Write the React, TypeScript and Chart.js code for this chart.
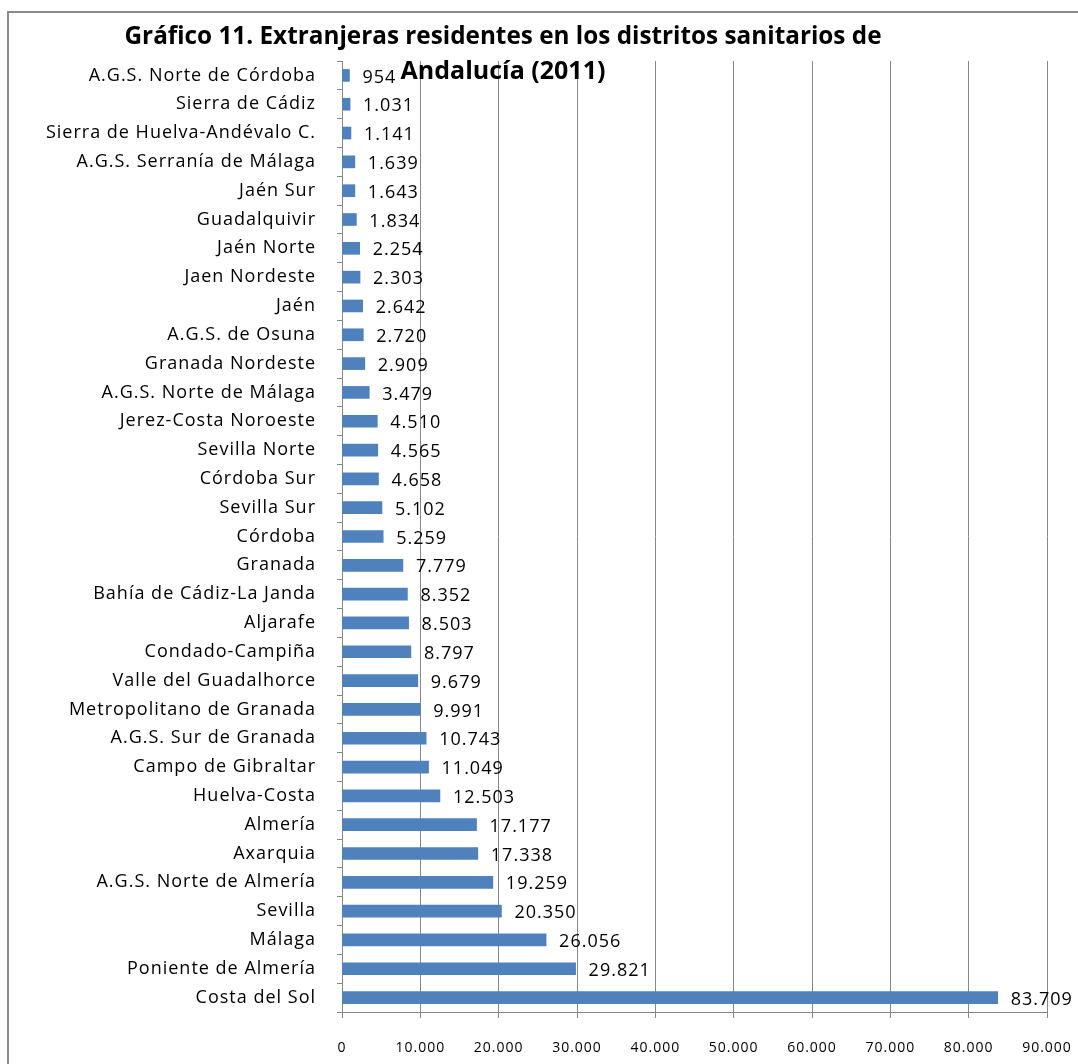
import React, { useEffect, useRef } from "react";
import { Chart, registerables } from "chart.js";

Chart.register(...registerables);

const titleLines = [
  "Gráfico 11. Extranjeras residentes en los distritos sanitarios de",
  "Andalucía (2011)",
];

const districts = [
  "A.G.S. Norte de Córdoba",
  "Sierra de Cádiz",
  "Sierra de Huelva-Andévalo C.",
  "A.G.S. Serranía de Málaga",
  "Jaén Sur",
  "Guadalquivir",
  "Jaén Norte",
  "Jaen Nordeste",
  "Jaén",
  "A.G.S. de Osuna",
  "Granada Nordeste",
  "A.G.S. Norte de Málaga",
  "Jerez-Costa Noroeste",
  "Sevilla Norte",
  "Córdoba Sur",
  "Sevilla Sur",
  "Córdoba",
  "Granada",
  "Bahía de Cádiz-La Janda",
  "Aljarafe",
  "Condado-Campiña",
  "Valle del Guadalhorce",
  "Metropolitano de Granada",
  "A.G.S. Sur de Granada",
  "Campo de Gibraltar",
  "Huelva-Costa",
  "Almería",
  "Axarquia",
  "A.G.S. Norte de Almería",
  "Sevilla",
  "Málaga",
  "Poniente de Almería",
  "Costa del Sol",
];

const residents = [
  954, 1031, 1141, 1639, 1643, 1834, 2254, 2303, 2642, 2720, 2909, 3479, 4510,
  4565, 4658, 5102, 5259, 7779, 8352, 8503, 8797, 9679, 9991, 10743, 11049,
  12503, 17177, 17338, 19259, 20350, 26056, 29821, 83709,
];

const xTicks = [0, 10000, 20000, 30000, 40000, 50000, 60000, 70000, 80000, 90000];

const fmt = (v: number) =>
  String(Math.round(v)).replace(/\B(?=(\d{3})+(?!\d))/g, ".");

const LABEL_FONT = "'Open Sans', 'DejaVu Sans', sans-serif";

const decorPlugin = {
  id: "decor",
  beforeDraw(chart: any) {
    const ctx = chart.ctx;
    ctx.save();
    ctx.fillStyle = "#ffffff";
    ctx.fillRect(0, 0, chart.width, chart.height);
    ctx.strokeStyle = "#8a8a8a";
    ctx.lineWidth = 2;
    ctx.beginPath();
    ctx.moveTo(8, chart.height);
    ctx.lineTo(8, 12);
    ctx.lineTo(chart.width, 12);
    ctx.stroke();
    ctx.restore();
    ctx.letterSpacing = "1px";
  },
  afterDatasetsDraw(chart: any) {
    const ctx = chart.ctx;
    const meta = chart.getDatasetMeta(0);
    ctx.save();
    ctx.letterSpacing = "1px";
    ctx.fillStyle = "#000";
    ctx.font = `18px ${LABEL_FONT}`;
    ctx.textAlign = "left";
    ctx.textBaseline = "middle";
    meta.data.forEach((bar: any, i: number) => {
      ctx.fillText(fmt(residents[i]), bar.x + 13, bar.y + 2);
    });
    ctx.restore();
  },
  afterDraw(chart: any) {
    const ctx = chart.ctx;
    ctx.save();
    ctx.letterSpacing = "0px";
    ctx.fillStyle = "#000";
    ctx.font = `bold 25px ${LABEL_FONT}`;
    ctx.textAlign = "center";
    ctx.textBaseline = "middle";
    ctx.fillText(titleLines[0], 503, 37, 757);
    ctx.fillText(titleLines[1], 503, 72, 206);
    ctx.restore();
  },
};

export default function App() {
  const ref = useRef<HTMLCanvasElement>(null);
  useEffect(() => {
    if (!ref.current) return;
    const chart = new Chart(ref.current, {
      type: "bar",
      data: {
        labels: districts,
        datasets: [
          {
            data: residents,
            backgroundColor: "#4F81BD",
            borderWidth: 0,
            barThickness: 12,
          },
        ],
      },
      plugins: [decorPlugin],
      options: {
        indexAxis: "y",
        responsive: false,
        animation: false,
        layout: { padding: { top: 61, right: 31, bottom: 0, left: 0 } },
        plugins: {
          legend: { display: false },
          title: { display: false },
          tooltip: { enabled: false },
        },
        scales: {
          y: {
            type: "category",
            offset: true,
            grid: {
              display: true,
              drawOnChartArea: false,
              drawTicks: true,
              tickLength: 5,
              color: "#888888",
              offset: true,
            },
            border: { display: true, color: "#888888", width: 1 },
            ticks: {
              autoSkip: false,
              color: "#000",
              padding: 21,
              font: { family: LABEL_FONT, size: 18 },
            },
            afterFit: (s: any) => {
              s.width = 342;
              s.paddingTop = 0;
              s.paddingBottom = 0;
            },
          },
          x: {
            type: "linear",
            min: 0,
            max: 90000,
            afterBuildTicks: (s: any) => {
              s.ticks = xTicks.map((v) => ({ value: v }));
            },
            grid: {
              color: "#888888",
              tickLength: 6,
              lineWidth: 1,
            },
            border: { display: true, color: "#888888", width: 1 },
            ticks: {
              color: "#000",
              padding: 22,
              maxRotation: 0,
              font: { family: LABEL_FONT, size: 14 },
              callback: (v: any) => fmt(Number(v)),
            },
            afterFit: (s: any) => {
              s.height = 52;
              s.paddingLeft = 0;
              s.paddingRight = 0;
            },
          },
        },
      },
    });
    return () => chart.destroy();
  }, []);
  return (
    <div style={{ position: "absolute", left: 0, top: 0, width: 1078, height: 1064 }}>
      <canvas ref={ref} width={1078} height={1064} />
    </div>
  );
}
